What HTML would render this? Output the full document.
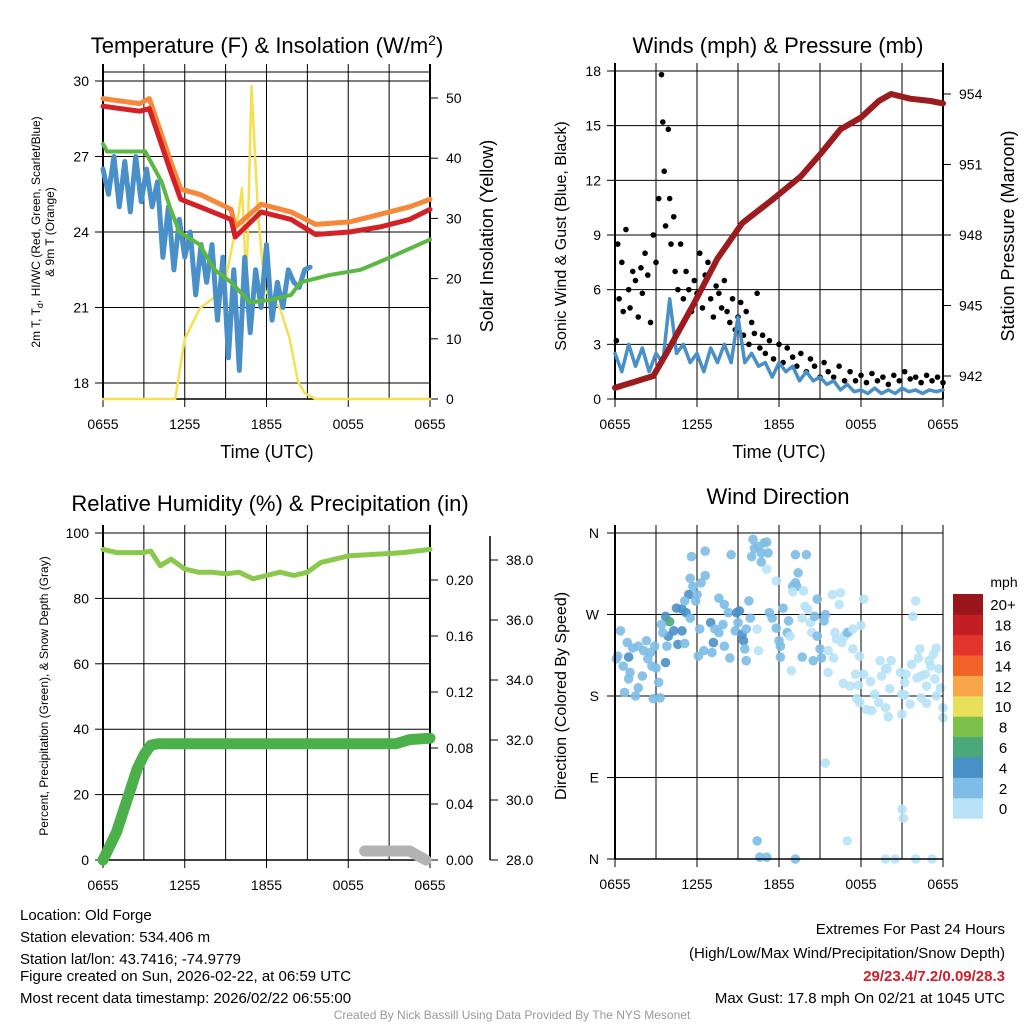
<!DOCTYPE html>
<html><head><meta charset="utf-8">
<style>
html,body{margin:0;padding:0;background:#fff;}
svg{display:block;font-family:"Liberation Sans",sans-serif;}
</style></head>
<body>
<svg id="c" width="1024" height="1024" viewBox="0 0 1024 1024" xmlns="http://www.w3.org/2000/svg">
<rect x="0" y="0" width="1024" height="1024" fill="#fff"/>
<g id="titles" font-size="22" text-anchor="middle" fill="#000">
<text x="267" y="53">Temperature (F) &amp; Insolation (W/m<tspan dy="-8" font-size="14">2</tspan><tspan dy="8">)</tspan></text>
<text x="778" y="53">Winds (mph) &amp; Pressure (mb)</text>
<text x="270" y="511">Relative Humidity (%) &amp; Precipitation (in)</text>
<text x="778" y="504">Wind Direction</text>
</g>
<g font-size="18" text-anchor="middle">
<text x="267" y="458">Time (UTC)</text>
<text x="779" y="458">Time (UTC)</text>
<text transform="translate(493,236) rotate(-90)">Solar Insolation (Yellow)</text>
<text transform="translate(1014,236) rotate(-90)">Station Pressure (Maroon)</text>
</g>
<g font-size="16" text-anchor="middle">
<text transform="translate(566,236) rotate(-90)">Sonic Wind &amp; Gust (Blue, Black)</text>
<text transform="translate(566,696) rotate(-90)">Direction (Colored By Speed)</text>
</g>
<g font-size="12" text-anchor="middle">
<text transform="translate(40,232) rotate(-90)">2m T, T<tspan font-size="9" dy="3">d</tspan><tspan dy="-3">, HI/WC (Red, Green, Scarlet/Blue)</tspan></text>
<text transform="translate(54,232) rotate(-90)">&amp; 9m T (Orange)</text>
<text transform="translate(48,696) rotate(-90)">Percent, Precipitation (Green), &amp; Snow Depth (Gray)</text>
</g>
<g id="plots"></g>
<g font-size="15" fill="#000">
<text x="20" y="920">Location: Old Forge</text>
<text x="20" y="942">Station elevation: 534.406 m</text>
<text x="20" y="964">Station lat/lon: 43.7416; -74.9779</text>
<text x="20" y="981">Figure created on Sun, 2026-02-22, at 06:59 UTC</text>
<text x="20" y="1003">Most recent data timestamp: 2026/02/22 06:55:00</text>
<g text-anchor="end">
<text x="1005" y="934">Extremes For Past 24 Hours</text>
<text x="1005" y="958">(High/Low/Max Wind/Precipitation/Snow Depth)</text>
<text x="1005" y="981" fill="#d0202a" font-weight="bold">29/23.4/7.2/0.09/28.3</text>
<text x="1005" y="1003">Max Gust: 17.8 mph On 02/21 at 1045 UTC</text>
</g>
</g>
<text x="512" y="1019" font-size="12" fill="#999" text-anchor="middle">Created By Nick Bassill Using Data Provided By The NYS Mesonet</text>
</svg>
<script>
// ---------- DATA ----------
const timeTickLabels = ["0655","1255","1855","0055","0655"];
const tempTicks = [18,21,24,27,30];
const insTicks = [0,10,20,30,40,50];
const windTicks = [0,3,6,9,12,15,18];
const presTicks = [942,945,948,951,954];
const rhTicks = [0,20,40,60,80,100];
const precipTicks = [0.00,0.04,0.08,0.12,0.16,0.20];
const snowTicks = [28.0,30.0,32.0,34.0,36.0,38.0];
const dirTickLabels = ["N","E","S","W","N"];
const dirTickDeg = [0,90,180,270,360];
const speedBins = ["0","2","4","6","8","10","12","14","16","18","20+"];
const speedColors = ["#b7e2f7","#7dbde6","#4a90c8","#4aa87a","#7cc24a","#e8e05a","#f8a647","#f2632a","#e1352b","#c31e26","#9b161c"];

const redT = [0,2.7,3.4,4.9,5.7,7.1,9.4,9.7,11.6,13.8,15.6,18.1,20.3,22.5,24];
const redV = [29.0,28.8,28.9,26.5,25.3,25.0,24.5,23.8,24.8,24.5,23.9,24.0,24.2,24.5,24.9];
const orangeV = [29.3,29.1,29.3,26.9,25.7,25.5,24.9,24.2,25.1,24.8,24.3,24.4,24.7,25.0,25.3];
const greenT = [0,0.3,3.1,4.3,4.9,5.6,7.1,8.2,9.4,10.8,12.3,13.8,14.5,16.7,18.9,21.1,24];
const greenV = [27.5,27.2,27.2,26,25,24,23.5,22.5,22,21.2,21.3,21.5,22,22.3,22.5,23,23.7];
const blueV = [26.5,25.5,27,25,26.8,24.8,27,25.2,26.5,25,26,23,25,22.5,24.5,23,24,21.5,23.5,22,23.5,20.5,23,19,22.5,18.5,23,20,22.5,21,23.5,20.5,22,21,22.5,22,21.8,22.5,22.6];
const blueStep = 0.4;
const insT = [0,5.3,6.0,7.1,8.2,9.0,9.9,10.2,10.5,10.6,10.9,11.4,11.9,13.0,13.7,14.3,14.8,15.6,24];
const insV = [0,0,10,15,17,20,30,35,20,25,52,30,18,15,10,3,1,0,0];

const windV = [2.5,1.5,3,1.8,2.8,1.5,2.5,2,5.5,2.5,3,2,2.5,1.5,2.8,2,3,2,4.5,2,2.5,1.8,2,1.2,2,1.5,1.8,1,1.5,1,1.2,0.8,1,0.5,0.8,0.4,0.5,0.3,0.6,0.3,0.5,0.3,0.6,0.4,0.5,0.3,0.5,0.4,0.5];
const windStep = 0.5;
const gustT = [0.1,0.2,0.3,0.5,0.6,0.8,1,1.1,1.3,1.5,1.7,1.9,2,2.2,2.4,2.6,2.8,3,3.2,3.4,3.5,3.6,3.7,3.9,4,4.1,4.3,4.4,4.6,4.8,5,5.2,5.4,5.6,5.8,6,6.2,6.4,6.6,6.8,7,7.2,7.4,7.6,7.8,8,8.2,8.4,8.6,8.8,9,9.2,9.4,9.6,9.8,10,10.2,10.4,10.6,10.8,11,11.3,11.6,12,12.3,12.6,13,13.3,13.6,14,14.3,14.6,15,15.3,15.6,16,16.4,16.8,17.2,17.6,18,18.4,18.8,19.2,19.6,20,20.4,20.8,21.2,21.6,22,22.4,22.8,23.2,23.6,24];
const gustV = [3.2,8.5,5.5,7.5,4.8,9.3,6,5,7,6.5,4.5,7.2,5.8,8,6.8,4.2,9,7.5,11,17.8,15.2,12.5,9.5,14.8,11,8.5,10,7,6,8.5,5.5,7,6,4.8,6.5,5.8,8,5,6.8,7.5,5.5,4.5,6.2,5.8,5,6.5,4.8,4.2,5.5,3.8,4.5,5.3,3.5,4.8,3,4.2,3.6,5.8,2.8,3.5,2.5,3.2,2.2,3,2,2.8,2.3,1.8,2.5,1.5,2.2,1.8,1.2,2,1.5,1.2,1.8,1,1.5,1,1.3,0.9,1.4,1,1.2,0.8,1.3,1,1.5,1.1,1.2,0.9,1.3,1,1.2,0.9];
const presT = [0,2.8,3.8,5.7,7.5,9.3,11.5,13.6,15.1,16.5,18,19.3,20.2,21.6,23.1,24];
const presV = [941.5,942,943,945,947,948.5,949.5,950.5,951.5,952.5,953,953.7,954,953.8,953.7,953.6];

const rhT = [0,1,3,3.5,4.2,5,6,7,8,9,10,11,12,13,14,15,16,17,18,20,22,24];
const rhV = [95,94,94,94.5,90,92,89,88,88,87.5,88,86,87,88,87,88,91,92,93,93.5,94,95];
const precipT = [0,1,1.5,2,2.5,3,3.5,4,21.5,22.5,24];
const precipV = [0,0.02,0.035,0.05,0.065,0.075,0.082,0.083,0.083,0.086,0.087];
const snowT = [19.2,21.5,22.5,23.3,23.7];
const snowV = [28.3,28.3,28.3,28.1,28.0];

const dirT = [0.4,0.9,1.3,1.7,2.3,2.6,2.9,0.2,1.0,0.6,1.1,2.0,2.7,3.0,3.2,1.0,1.7,0.7,1.5,2.8,3.3,0.1,2.4,2.1,
3.7,4.0,4.3,3.9,4.5,4.9,5.2,5.4,5.1,5.7,6.0,5.9,5.5,6.3,5.6,6.6,6.6,4.6,5.1,3.5,3.8,3.7,3.4,4.9,5.5,
6.2,7.0,7.2,7.1,6.5,6.1,7.6,8.0,8.3,7.9,7.6,7.3,8.0,8.4,8.8,8.5,8.9,9.1,9.3,9.4,9.5,9.6,9.6,9.0,
9.8,9.9,10.4,10.5,10.1,10.5,10.9,11.1,10.2,10.7,11.2,10.0,10.7,11.1,11.8,11.3,11.5,11.8,12.0,12.1,12.1,12.3,12.7,12.6,12.8,12.9,13.2,14.0,13.4,13.0,13.2,13.3,13.0,13.8,13.7,13.9,14.1,14.3,14.4,13.7,14.5,14.6,14.8,14.8,15.0,15.1,15.4,15.3,
15.6,16.0,15.9,16.5,16.4,16.1,16.2,16.6,16.8,17.1,17.0,17.4,17.4,17.9,18.0,18.2,15.6,16.7,17.2,17.6,17.8,18.2,18.7,17.7,17.9,18.4,18.8,19.0,19.3,19.4,19.8,19.5,19.9,20.2,20.1,19.8,20.0,
20.9,21.0,21.2,21.3,21.2,21.6,21.0,21.7,22.0,21.8,22.2,22.3,22.1,22.4,22.7,22.8,23.0,23.1,23.3,23.5,23.4,23.7,23.8,23.5,22.8,22.4,24.0,24.0,
10.4,10.6,11.1,13.2,17.0,19.8,20.5,21.0,21.1,23.2,22.0,15.4];
const dirDeg = [252,239,233,235,241,228,235,224,223,213,206,202,213,211,195,199,189,184,180,177,178,221,221,230,
268,262,252,246,277,276,272,292,285,301,292,285,310,305,334,340,313,237,238,250,235,217,259,252,266,
254,261,239,228,230,224,288,281,272,259,250,254,235,222,252,336,272,274,248,241,232,219,254,261,
285,266,254,230,353,345,349,350,343,338,338,334,328,320,307,272,266,255,241,235,223,277,263,250,246,208,336,336,316,301,305,301,295,296,266,279,276,261,250,223,219,268,246,287,232,222,270,263,
230,222,292,294,281,250,243,239,246,250,250,254,232,224,258,287,206,194,191,204,192,204,196,177,173,165,164,182,173,219,210,202,210,219,188,167,157,
206,182,181,204,195,171,160,215,285,268,222,232,200,202,204,191,219,213,226,233,199,210,189,180,172,178,167,156,
20,2,2,0,20,0,0,55,45,0,0,106];
const dirSpd = [3,3,3,3,3,3,3,3,5,3,3,3,3,3,3,3,3,3,3,3,3,3,3,3,
5,7,5,5,5,5,5,5,3,3,3,3,3,3,3,3,3,5,3,3,3,5,3,5,3,
3,5,5,3,3,3,3,3,3,3,3,3,3,3,3,3,5,5,5,5,3,3,3,3,
3,3,1,1,3,3,3,3,3,3,3,3,3,1,1,3,3,3,3,3,3,3,3,3,1,1,3,3,3,3,3,3,1,1,1,1,1,1,1,3,3,3,3,3,3,3,3,3,
1,1,1,1,1,1,1,1,1,1,3,1,1,1,1,1,1,1,1,1,1,1,1,1,1,1,1,1,1,1,1,1,1,1,1,1,1,
1,1,1,1,1,1,1,1,1,1,1,1,1,1,1,1,1,1,1,1,1,1,1,1,1,1,1,1,
3,3,3,3,1,1,1,1,1,1,1,1];

// ---------- HELPERS ----------
const NS = "http://www.w3.org/2000/svg";
const root = document.getElementById("plots");
function mk(tag, attrs, parent){
  const e = document.createElementNS(NS, tag);
  for (const k in attrs) e.setAttribute(k, attrs[k]);
  (parent||root).appendChild(e);
  return e;
}
function lin(d0,d1,r0,r1){ return v => r0 + (v-d0)/(d1-d0)*(r1-r0); }
function pathD(ts, vs, sx, sy){
  let d=""; for(let i=0;i<vs.length;i++){ d += (i?"L":"M")+sx(ts[i]).toFixed(1)+","+sy(vs[i]).toFixed(1); } return d;
}
function frame(L,T,R,B,name){
  const g = mk("g",{});
  
  
  for(let h=3;h<24;h+=3){
    const x = L + h/24*(R-L);
    const ln = mk("line",{x1:x,x2:x,y1:T-8,y2:B,stroke:"#000","stroke-width":1},g);
    
    
  }
  return g;
}
function hgrid(g,L,R,y){
  const ln = mk("line",{x1:L,x2:R,y1:y,y2:y,stroke:"#000","stroke-width":1},g);
  
  
}
function label(g,x,y,txt,anchor,size,name){
  const t = mk("text",{x:x,y:y,"text-anchor":anchor,"font-size":size||14},g);
  t.textContent = txt;
  
  
  return t;
}
function tick(g,x1,y1,x2,y2){
  const ln = mk("line",{x1:x1,y1:y1,x2:x2,y2:y2,stroke:"#000","stroke-width":1},g);
  
  
}
function spine(g,x1,y1,x2,y2,w){
  const ln = mk("line",{x1:x1,y1:y1,x2:x2,y2:y2,stroke:"#000","stroke-width":w||2},g);
  
  
}
function xTicks(g,L,R,B){
  timeTickLabels.forEach((s,i)=>{
    const x = L + i*6/24*(R-L);
    tick(g,x,B,x,B+8);
    label(g,x,B+30,s,"middle",14,"x-tick-label");
  });
}
function series(ts,vs,sx,sy,color,w,name){
  const p = mk("path",{d:pathD(ts,vs,sx,sy),fill:"none",stroke:color,"stroke-width":w,"stroke-linejoin":"round","stroke-linecap":"round"});
  
  
  return p;
}
function idxTimes(arr,step){ return arr.map((_,i)=>i*step); }

// ---------- TEMPERATURE PANEL ----------
(function(){
  const L=103,R=430,T=72,B=399;
  const sx = lin(0,24,L,R), sy = lin(18,30,383,81), si = lin(0,50,399,98);
  const g = frame(L,T,R,B,"temperature-panel");
  hgrid(g,L,R,T);
  tempTicks.forEach(v=>{ hgrid(g,L,R,sy(v)); tick(g,L-8,sy(v),L,sy(v)); label(g,L-14,sy(v)+5,String(v),"end",14,"temp-y-tick-label"); });
  insTicks.forEach(v=>{ tick(g,R,si(v),R+8,si(v)); label(g,R+16,si(v)+5,String(v),"start",14,"insolation-tick-label"); });
  xTicks(g,L,R,B);
  series(insT,insV,sx,si,"#f5e050",2.5,"insolation-line");
  series(idxTimes(blueV,blueStep),blueV,sx,sy,"#4a90c8",5,"heat-index-windchill-line");
  series(greenT,greenV,sx,sy,"#5bb843",4,"dewpoint-line");
  series(redT,orangeV,sx,sy,"#f5883a",5,"temp-9m-line");
  series(redT,redV,sx,sy,"#d42027",5,"temp-2m-line");
  spine(g,L,T-8,L,B); spine(g,R,T-8,R,B); spine(g,L,B,R,B,1.5);
})();

// ---------- WINDS PANEL ----------
(function(){
  const L=615,R=943,T=71,B=399;
  const sx = lin(0,24,L,R), sy = lin(0,18,399,71), sp = lin(942,954,376,94);
  const g = frame(L,T,R,B,"winds-panel");
  windTicks.forEach(v=>{ hgrid(g,L,R,sy(v)); tick(g,L-8,sy(v),L,sy(v)); label(g,L-14,sy(v)+5,String(v),"end",14,"wind-y-tick-label"); });
  presTicks.forEach(v=>{ tick(g,R,sp(v),R+8,sp(v)); label(g,R+16,sp(v)+5,String(v),"start",14,"pressure-tick-label"); });
  xTicks(g,L,R,B);
  series(idxTimes(windV,windStep),windV,sx,sy,"#4a90c8",3.5,"sonic-wind-line");
  gustV.forEach((v,i)=>{
    const c = mk("circle",{cx:sx(gustT[i]),cy:sy(v),r:2.8,fill:"#000"},g);
    
    
  });
  series(presT,presV,sx,sp,"#9b1b1e",6,"pressure-line");
  spine(g,L,T-8,L,B); spine(g,R,T-8,R,B); spine(g,L,B,R,B,1.5);
})();

// ---------- HUMIDITY PANEL ----------
(function(){
  const L=103,R=430,T=533,B=860;
  const sx = lin(0,24,L,R), sy = lin(0,100,860,533), spp = lin(0,0.04,860,804), ss = lin(28,30,860,800);
  const g = frame(L,T,R,B,"humidity-panel");
  rhTicks.forEach(v=>{ hgrid(g,L,R,sy(v)); tick(g,L-8,sy(v),L,sy(v)); label(g,L-14,sy(v)+5,String(v),"end",14,"rh-y-tick-label"); });
  precipTicks.forEach(v=>{ tick(g,R,spp(v),R+8,spp(v)); label(g,R+16,spp(v)+5,v.toFixed(2),"start",14,"precip-tick-label"); });
  snowTicks.forEach(v=>{ tick(g,490,ss(v),498,ss(v)); label(g,506,ss(v)+5,v.toFixed(1),"start",14,"snow-depth-tick-label"); });
  spine(g,490,ss(38.8),490,B,1.5);
  xTicks(g,L,R,B);
  series(rhT,rhV,sx,sy,"#8cc84b",5,"relative-humidity-line");
  series(snowT,snowV,sx,ss,"#b3b3b3",11,"snow-depth-line");
  series(precipT,precipV,sx,spp,"#4cb04a",11,"precipitation-line");
  spine(g,L,T-8,L,B); spine(g,R,T-8,R,B); spine(g,L,B,R,B,1.5);
})();

// ---------- WIND DIRECTION PANEL ----------
(function(){
  const L=615,R=943,T=533,B=859;
  const sx = lin(0,24,L,R), sy = lin(0,360,859,533);
  const g = frame(L,T,R,B,"wind-direction-panel");
  dirTickDeg.forEach((d,i)=>{ hgrid(g,L,R,sy(d)); tick(g,L-8,sy(d),L,sy(d)); label(g,L-16,sy(d)+5,dirTickLabels[i],"end",14,"direction-tick-label"); });
  xTicks(g,L,R,B);
  dirDeg.forEach((d,i)=>{
    const bin = Math.min(10, Math.floor(dirSpd[i]/2));
    const c = mk("circle",{cx:sx(dirT[i]),cy:sy(d),r:4.8,fill:speedColors[bin],opacity:0.9},g);
    
    
  });
  spine(g,L,T-8,L,B); spine(g,R,T-8,R,B,1); spine(g,L,B,R,B,1.5);
  const cb = mk("g",{});
  
  
  const top=594, h=20.4;
  speedBins.forEach((s,i)=>{
    const y = top + (10-i)*h;
    const r = mk("rect",{x:953,y:y,width:30,height:h+0.3,fill:speedColors[i]},cb);
    
    
    label(cb,1003,y+h/2+6,s,"middle",15,"colorbar-label");
  });
  label(cb,1004,587,"mph","middle",14,"colorbar-unit");
})();
</script>
</body></html>
